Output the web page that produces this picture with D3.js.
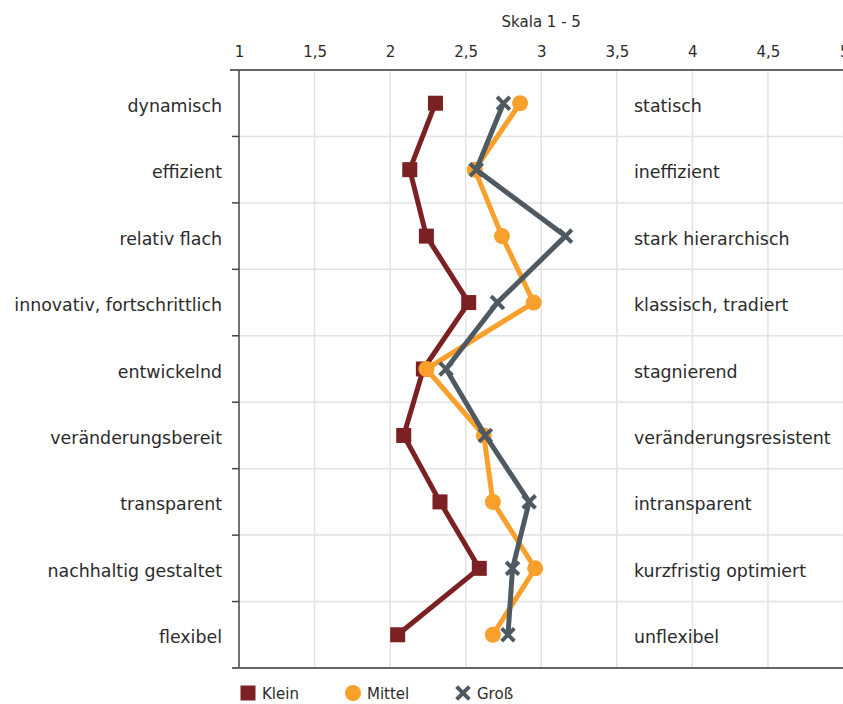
<!DOCTYPE html>
<html>
<head>
<meta charset="utf-8">
<script src="https://cdn.jsdelivr.net/npm/d3@7"></script>
<style>
  html, body { margin: 0; padding: 0; background: #fff; }
  svg { display: block; font-family: "DejaVu Sans", "Open Sans", sans-serif; }
</style>
</head>
<body>
<svg id="chart" width="843" height="704"></svg>
<script>
// Polarity profile: left attribute vs. right attribute, rated on a 1–5 scale
const leftLabels = ["dynamisch", "effizient", "relativ flach", "innovativ, fortschrittlich",
  "entwickelnd", "veränderungsbereit", "transparent", "nachhaltig gestaltet", "flexibel"];
const rightLabels = ["statisch", "ineffizient", "stark hierarchisch", "klassisch, tradiert",
  "stagnierend", "veränderungsresistent", "intransparent", "kurzfristig optimiert", "unflexibel"];

const klein  = [2.30, 2.13, 2.24, 2.52, 2.22, 2.09, 2.33, 2.59, 2.05];
const mittel = [2.86, 2.56, 2.74, 2.95, 2.24, 2.62, 2.68, 2.96, 2.68];
const gross  = [2.75, 2.57, 3.16, 2.71, 2.37, 2.63, 2.92, 2.81, 2.78];

const xTicks = [1, 1.5, 2, 2.5, 3, 3.5, 4, 4.5, 5];
const seriesNames = ["Klein", "Mittel", "Groß"];

const colors = { Klein: "#7b2123", Mittel: "#f8a02b", "Groß": "#4f5961" };
const textColor = "#2b2b2b";

const svg = d3.select("#chart");
const plotLeft = 239, plotRight = 843.5, plotTop = 70, plotBottom = 668;

const x = d3.scaleLinear().domain([1, 5]).range([plotLeft, plotRight]);
const y = d3.scaleBand().domain(leftLabels).range([plotTop, plotBottom]);
const yc = d => y(d) + y.bandwidth() / 2;

// vertical grid
svg.append("g").selectAll("line").data(xTicks.slice(1)).join("line")
  .attr("x1", d => x(d)).attr("x2", d => x(d))
  .attr("y1", plotTop).attr("y2", plotBottom)
  .attr("stroke", "#e2e2e2").attr("stroke-width", 1.5);

// horizontal grid at band boundaries
const bounds = leftLabels.map(d => y(d) + y.bandwidth()).slice(0, -1);
svg.append("g").selectAll("line").data(bounds).join("line")
  .attr("x1", plotLeft).attr("x2", plotRight)
  .attr("y1", d => d).attr("y2", d => d)
  .attr("stroke", "#e2e2e2").attr("stroke-width", 1.5);

// top axis
const xAxis = d3.axisTop(x).tickValues(xTicks)
  .tickFormat(d => String(d).replace(".", ",")).tickSize(0).tickPadding(13);
const gx = svg.append("g").attr("transform", `translate(0,${plotTop})`).call(xAxis);
gx.select(".domain").remove();
gx.selectAll("text").attr("fill", textColor).attr("font-size", 15).attr("font-family", "DejaVu Sans");
gx.selectAll(".tick").filter(d => d === 5).select("text").attr("text-anchor", "start").attr("dx", -4);
svg.append("line").attr("x1", 230).attr("x2", plotRight).attr("y1", plotTop).attr("y2", plotTop)
  .attr("stroke", "#666").attr("stroke-width", 2);

svg.append("text").attr("x", x(3)).attr("y", 27).attr("text-anchor", "middle")
  .attr("fill", textColor).attr("font-size", 15).text("Skala 1 - 5");

// left axis line and ticks
svg.append("line").attr("x1", plotLeft).attr("x2", plotLeft).attr("y1", plotTop).attr("y2", plotBottom)
  .attr("stroke", "#444").attr("stroke-width", 1.5);
svg.append("g").selectAll("line").data(bounds).join("line")
  .attr("x1", plotLeft - 7).attr("x2", plotLeft).attr("y1", d => d).attr("y2", d => d)
  .attr("stroke", "#444").attr("stroke-width", 1.5);
svg.append("line").attr("x1", 232).attr("x2", plotRight).attr("y1", plotBottom).attr("y2", plotBottom)
  .attr("stroke", "#666").attr("stroke-width", 2);

// category labels
svg.append("g").selectAll("text").data(leftLabels).join("text")
  .attr("x", 222).attr("y", d => yc(d) + 8.5)
  .attr("text-anchor", "end").attr("fill", textColor).attr("font-size", 17.4).text(d => d);
svg.append("g").selectAll("text").data(rightLabels).join("text")
  .attr("x", 634).attr("y", (d, i) => yc(leftLabels[i]) + 8.5)
  .attr("fill", textColor).attr("font-size", 17.4).text(d => d);

const series = [
  { name: "Klein", values: klein },
  { name: "Mittel", values: mittel },
  { name: "Groß", values: gross }
];

const line = d3.line().x(d => x(d.v)).y(d => yc(d.c));

function drawMarker(g, name, cx, cy, s) {
  const c = colors[name];
  if (name === "Klein") {
    g.append("rect").attr("x", cx - s).attr("y", cy - s).attr("width", 2 * s).attr("height", 2 * s).attr("fill", c);
  } else if (name === "Mittel") {
    g.append("circle").attr("cx", cx).attr("cy", cy).attr("r", s + 0.5).attr("fill", c);
  } else {
    const k = s * 0.85;
    g.append("path").attr("d", `M${cx - k},${cy - k}L${cx + k},${cy + k}M${cx - k},${cy + k}L${cx + k},${cy - k}`)
      .attr("stroke", c).attr("stroke-width", 4).attr("fill", "none");
  }
}

series.forEach(s => {
  const pts = s.values.map((v, i) => ({ v, c: leftLabels[i] }));
  const g = svg.append("g");
  g.append("path").datum(pts).attr("d", line)
    .attr("fill", "none").attr("stroke", colors[s.name]).attr("stroke-width", 5)
    .attr("stroke-linejoin", "round");
  pts.forEach(p => drawMarker(g, s.name, x(p.v), yc(p.c), 7.5));
});

// legend
const legendX = [248, 353, 463];
const lg = svg.append("g");
seriesNames.forEach((n, i) => {
  drawMarker(lg, n, legendX[i], 693, 7.5);
  lg.append("text").attr("x", legendX[i] + 14).attr("y", 699)
    .attr("fill", textColor).attr("font-size", 15).text(n);
});
</script>
</body>
</html>
